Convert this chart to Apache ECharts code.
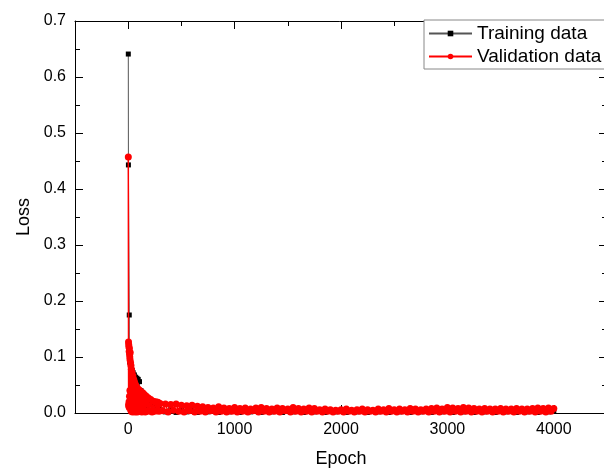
<!DOCTYPE html>
<html>
<head>
<meta charset="utf-8">
<script src="https://cdn.jsdelivr.net/npm/echarts@6/dist/echarts.min.js"></script>
<style>
  html, body { margin: 0; padding: 0; background: #fff; }
  #chart { width: 604px; height: 471px; }
</style>
</head>
<body>
<div id="chart"></div>
<script>
// ---- data ----
// first epochs, [epoch, loss]
const trainEarly = [
  [1, 0.641], [2, 0.443], [10, 0.175], [11, 0.02], [13, 0.091], [15, 0.03], [17, 0.1], [19, 0.01],
  [22, 0.06], [26, 0.02], [30, 0.078], [34, 0.01], [38, 0.076], [42, 0.015], [46, 0.072], [52, 0.02],
  [58, 0.068], [64, 0.01], [70, 0.064], [76, 0.02], [82, 0.062], [88, 0.015], [94, 0.06], [100, 0.02],
  [106, 0.056], [112, 0.01], [120, 0.04], [135, 0.008], [150, 0.03], [170, 0.006], [190, 0.022],
  [210, 0.005], [230, 0.016], [250, 0.004], [275, 0.012], [290, 0.004]
];
const validEarly = [
  [1, 0.457], [3, 0.127], [4, 0.015], [5, 0.122], [6, 0.012], [7, 0.118], [8, 0.02], [9, 0.11],
  [10, 0.01], [11, 0.115], [12, 0.03], [13, 0.105], [14, 0.012], [15, 0.1], [16, 0.04], [17, 0.095],
  [18, 0.015], [19, 0.108], [20, 0.02], [22, 0.09], [24, 0.006], [26, 0.085], [28, 0.003], [30, 0.078],
  [33, 0.005], [36, 0.072], [40, 0.002], [44, 0.066], [48, 0.004], [52, 0.06], [56, 0.003], [60, 0.055],
  [65, 0.002], [70, 0.05], [75, 0.004], [80, 0.046], [86, 0.002], [92, 0.043], [98, 0.003], [105, 0.041],
  [112, 0.004], [120, 0.038], [128, 0.002], [136, 0.036], [144, 0.004], [152, 0.033], [160, 0.002],
  [170, 0.03], [180, 0.003], [190, 0.027], [200, 0.004], [212, 0.024], [224, 0.002], [236, 0.021],
  [248, 0.003], [260, 0.02], [272, 0.004], [280, 0.019], [290, 0.003]
];

// later epochs, sampled on a regular step
const trainLateStart = 300, trainLateStep = 50;
const trainLate = [
  0.006, 0.002, 0.006, 0.001, 0.005, 0.002, 0.005, 0.001, 0.005, 0.002,
  0.004, 0.001, 0.005, 0.002, 0.004, 0.001, 0.004, 0.002, 0.004, 0.001,
  0.004, 0.002, 0.003, 0.001, 0.004, 0.002, 0.003, 0.001, 0.004, 0.002,
  0.003, 0.001, 0.003, 0.002, 0.004, 0.001, 0.003, 0.002, 0.003, 0.001,
  0.003, 0.002, 0.004, 0.001, 0.003, 0.002, 0.003, 0.001, 0.004, 0.002,
  0.003, 0.001, 0.004, 0.002, 0.003, 0.001, 0.004, 0.002, 0.003, 0.001,
  0.004, 0.002, 0.003, 0.001, 0.004, 0.002, 0.003, 0.001, 0.004, 0.002,
  0.003, 0.001, 0.004, 0.002, 0.003
];
const validLateStart = 300, validLateStep = 25;
const validLate = [
  0.017, 0.004, 0.016, 0.002, 0.015, 0.005, 0.016, 0.003, 0.014, 0.002,
  0.013, 0.004, 0.014, 0.002, 0.012, 0.003, 0.011, 0.002, 0.010, 0.004,
  0.009, 0.002, 0.011, 0.003, 0.009, 0.002, 0.008, 0.003, 0.010, 0.002,
  0.008, 0.003, 0.009, 0.002, 0.007, 0.004, 0.009, 0.002, 0.010, 0.003,
  0.008, 0.002, 0.007, 0.003, 0.009, 0.002, 0.008, 0.004, 0.007, 0.002,
  0.010, 0.003, 0.008, 0.002, 0.007, 0.003, 0.009, 0.002, 0.008, 0.003,
  0.006, 0.002, 0.007, 0.003, 0.006, 0.002, 0.005, 0.003, 0.006, 0.002,
  0.007, 0.003, 0.005, 0.002, 0.006, 0.003, 0.007, 0.002, 0.006, 0.003,
  0.005, 0.002, 0.007, 0.003, 0.006, 0.002, 0.008, 0.003, 0.006, 0.002,
  0.007, 0.003, 0.006, 0.002, 0.008, 0.003, 0.007, 0.002, 0.006, 0.003,
  0.007, 0.002, 0.008, 0.003, 0.009, 0.002, 0.007, 0.003, 0.010, 0.002,
  0.009, 0.003, 0.008, 0.002, 0.010, 0.003, 0.009, 0.002, 0.008, 0.003,
  0.007, 0.002, 0.008, 0.003, 0.007, 0.002, 0.007, 0.003, 0.008, 0.002,
  0.007, 0.003, 0.007, 0.002, 0.008, 0.003, 0.007, 0.002, 0.007, 0.003,
  0.008, 0.002, 0.009, 0.003, 0.008, 0.002, 0.009, 0.003, 0.008
];

const xMajorTicks = [0, 1000, 2000, 3000, 4000];
const xMinorTicks = [500, 1500, 2500, 3500];

function joinSeries(early, start, step, late) {
  const out = early.slice();
  late.forEach(function (v, i) { out.push([start + i * step, v]); });
  return out;
}

const FONT = 'Arial, "Liberation Sans", sans-serif';
const chart = echarts.init(document.getElementById('chart'), null, { renderer: 'canvas' });

// origin style frame: black lines, ticks inside, axes stay on the grid edges
const lineBlack = { show: true, onZero: false, lineStyle: { color: '#000', width: 1 } };
const lineHidden = { show: false, onZero: false };

function xAx(pos, opts) {
  return Object.assign({
    type: 'value', position: pos, min: -500, max: 4500, interval: 500,
    axisLine: lineBlack,
    axisTick: { inside: true, length: 5, lineStyle: { color: '#000' } },
    axisLabel: { show: false },
    splitLine: { show: false }
  }, opts);
}

function yAx(pos, opts) {
  return Object.assign({
    type: 'value', position: pos, min: 0, max: 0.7, interval: 0.1,
    axisLine: lineBlack,
    axisTick: { inside: true, length: 8, lineStyle: { color: '#000' } },
    minorTick: { show: true, splitNumber: 2, length: 5, lineStyle: { color: '#000' } },
    axisLabel: { show: false },
    splitLine: { show: false }
  }, opts);
}

const option = {
  animation: false,
  grid: { left: 75, right: -3, top: 21, bottom: 58, containLabel: false, outerBoundsMode: 'none' },
  legend: {
    data: ['Training data', 'Validation data'],
    orient: 'vertical',
    left: 424, top: 20,
    padding: [4, 40, 3, 4],
    itemGap: 4,
    itemWidth: 43, itemHeight: 7,
    borderColor: '#888', borderWidth: 1,
    backgroundColor: '#fff',
    textStyle: { fontFamily: FONT, fontSize: 19, color: '#000' }
  },
  xAxis: [
    xAx('bottom', {
      name: 'Epoch', nameLocation: 'middle', nameGap: 37,
      nameTextStyle: { fontFamily: FONT, fontSize: 18, color: '#000' },
      axisLabel: {
        show: true, margin: 9, fontFamily: FONT, fontSize: 16, color: '#000',
        formatter: function (v) { return (v >= 0 && v % 1000 === 0) ? String(v) : ''; }
      }
    }),
    xAx('bottom', { axisLine: lineHidden, axisTick: { inside: true, length: 8, customValues: xMajorTicks, lineStyle: { color: '#000' } } }),
    xAx('top', { axisTick: { inside: true, length: 5, customValues: xMinorTicks, lineStyle: { color: '#000' } } }),
    xAx('top', { axisLine: lineHidden, axisTick: { inside: true, length: 8, customValues: xMajorTicks, lineStyle: { color: '#000' } } })
  ],
  yAxis: [
    yAx('left', {
      name: 'Loss', nameLocation: 'middle', nameGap: 42,
      nameTextStyle: { fontFamily: FONT, fontSize: 18, color: '#000' },
      axisLabel: {
        show: true, margin: 9, fontFamily: FONT, fontSize: 16, color: '#000',
        formatter: function (v) { return v.toFixed(1); }
      }
    }),
    yAx('right', {})
  ],
  series: [
    {
      name: 'Training data',
      type: 'line',
      z: 2,
      data: joinSeries(trainEarly, trainLateStart, trainLateStep, trainLate),
      symbol: 'rect', symbolSize: 5,
      itemStyle: { color: '#000', borderWidth: 0 },
      lineStyle: { color: '#555', width: 1 },
      emphasis: { disabled: true }
    },
    {
      name: 'Validation data',
      type: 'line',
      z: 3, // red drawn over the black one
      data: joinSeries(validEarly, validLateStart, validLateStep, validLate),
      symbol: 'circle', symbolSize: 7,
      itemStyle: { color: '#ff0000', borderWidth: 0 },
      lineStyle: { color: '#ff0000', width: 1.5 },
      emphasis: { disabled: true }
    }
  ]
};

chart.setOption(option);
</script>
</body>
</html>
